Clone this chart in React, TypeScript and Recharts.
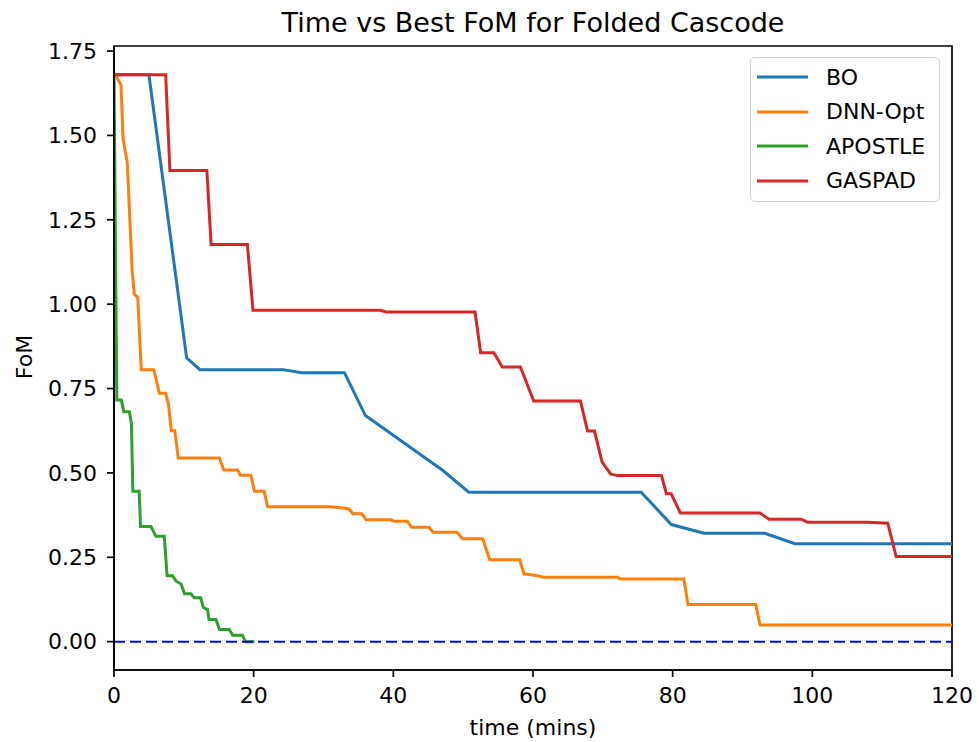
import { LineChart, Line, XAxis, YAxis, ReferenceLine, ReferenceArea } from 'recharts';

const FONT = '"DejaVu Sans", sans-serif';

// BO
const boTime = [0, 5.0, 10.4, 12.3, 24.2, 26.9, 33.0, 36.0, 47.1, 50.8, 75.5, 79.8, 84.5, 93.2, 97.5, 120];
const boFom = [1.68, 1.68, 0.841, 0.806, 0.806, 0.797, 0.797, 0.67, 0.507, 0.443, 0.443, 0.347, 0.321, 0.321, 0.29, 0.29];

// DNN-Opt
const dnnTime = [0, 0.2, 1.0, 1.3, 1.9, 2.6, 2.9, 3.4, 3.9, 5.7, 6.5, 7.4, 7.8, 8.2, 8.7, 9.2, 15.1, 15.7, 17.7, 18.1, 19.6, 20.1, 21.5, 22.0, 31.0, 32.4, 33.6, 34.2, 35.5, 36.1, 39.6, 40.1, 42.0, 42.6, 45.1, 45.7, 49.1, 49.9, 52.8, 53.8, 58.1, 58.7, 60.2, 61.6, 72.1, 72.5, 81.6, 82.2, 91.9, 92.5, 120];
const dnnFom = [1.68, 1.68, 1.65, 1.49, 1.42, 1.1, 1.03, 1.02, 0.806, 0.806, 0.736, 0.736, 0.704, 0.625, 0.625, 0.544, 0.544, 0.509, 0.509, 0.493, 0.493, 0.446, 0.446, 0.4, 0.4, 0.397, 0.394, 0.379, 0.379, 0.361, 0.361, 0.357, 0.357, 0.339, 0.339, 0.324, 0.324, 0.305, 0.305, 0.243, 0.243, 0.201, 0.197, 0.191, 0.191, 0.186, 0.186, 0.11, 0.11, 0.049, 0.049];

// APOSTLE
const apoTime = [0, 0.4, 1.05, 1.4, 2.2, 2.5, 2.7, 3.6, 3.8, 5.3, 6.0, 7.2, 7.6, 8.4, 8.9, 9.6, 10.1, 11.0, 11.5, 12.4, 12.8, 13.4, 13.6, 14.6, 15.1, 16.5, 17.0, 18.4, 18.8, 20.1];
const apoFom = [1.68, 0.716, 0.716, 0.681, 0.681, 0.646, 0.446, 0.446, 0.341, 0.341, 0.312, 0.312, 0.195, 0.195, 0.179, 0.171, 0.142, 0.142, 0.13, 0.13, 0.101, 0.095, 0.066, 0.066, 0.036, 0.036, 0.019, 0.019, 0, 0];

// GASPAD
const gasTime = [0, 7.4, 8.0, 13.3, 13.9, 19.1, 19.9, 38.1, 39.0, 51.7, 52.5, 54.4, 55.6, 58.2, 60.1, 66.8, 67.8, 68.8, 69.9, 71.1, 72.1, 78.4, 79.1, 79.8, 81.1, 92.5, 93.8, 98.4, 99.3, 107.9, 110.8, 112.0, 120];
const gasFom = [1.68, 1.68, 1.396, 1.396, 1.177, 1.177, 0.982, 0.982, 0.977, 0.977, 0.856, 0.856, 0.814, 0.814, 0.713, 0.713, 0.624, 0.624, 0.532, 0.497, 0.492, 0.492, 0.438, 0.438, 0.381, 0.381, 0.363, 0.363, 0.354, 0.354, 0.351, 0.252, 0.252];

const xTicks = [0, 20, 40, 60, 80, 100, 120];
const yTicks = [0, 0.25, 0.5, 0.75, 1.0, 1.25, 1.5, 1.75];

const toPoints = (ts: number[], vs: number[]) => ts.map((t, i) => ({ t, v: vs[i] }));

const series = [
  { name: 'BO', color: '#1f77b4', data: toPoints(boTime, boFom) },
  { name: 'DNN-Opt', color: '#ff7f0e', data: toPoints(dnnTime, dnnFom) },
  { name: 'APOSTLE', color: '#2ca02c', data: toPoints(apoTime, apoFom) },
  { name: 'GASPAD', color: '#d62728', data: toPoints(gasTime, gasFom) },
];

const Y_MIN = -0.084;
const Y_MAX = 1.765;

const App = () => {
  return (
    <div style={{ position: 'absolute', left: 0, top: 0, width: 979, height: 742, background: '#fff', fontFamily: FONT }}>
      <LineChart width={979} height={742} margin={{ top: 46, right: 27, left: 0, bottom: 0 }}>
        <XAxis
          dataKey="t"
          type="number"
          domain={[0, 120]}
          ticks={xTicks}
          height={72}
          allowDataOverflow
          stroke="#000"
          strokeWidth={1.7}
          tickSize={7}
          tickMargin={10}
          tick={{ fontSize: 22, fill: '#000', fontFamily: FONT }}
          label={{
            content: () => (
              <text x={533} y={735} textAnchor="middle" fontSize={22} fontFamily={FONT} fill="#000">
                time (mins)
              </text>
            ),
          }}
        />
        <YAxis
          type="number"
          domain={[Y_MIN, Y_MAX]}
          ticks={yTicks}
          width={114}
          allowDataOverflow
          stroke="#000"
          strokeWidth={1.7}
          tickSize={7}
          tickMargin={10}
          tickFormatter={(v: number) => v.toFixed(2)}
          tick={{ fontSize: 22, fill: '#000', fontFamily: FONT }}
          label={{
            content: () => (
              <text x={32} y={357} transform="rotate(-90 32 357)" textAnchor="middle" fontSize={22} fontFamily={FONT} fill="#000">
                FoM
              </text>
            ),
          }}
        />
        {series.map((s) => (
          <Line
            key={s.name}
            data={s.data}
            dataKey="v"
            name={s.name}
            type="linear"
            stroke={s.color}
            strokeWidth={3}
            dot={false}
            activeDot={false}
            isAnimationActive={false}
          />
        ))}
        <ReferenceLine y={0} stroke="#0000ff" strokeWidth={2} strokeDasharray="11 5" />
        <ReferenceArea x1={0} x2={120} y1={Y_MIN} y2={Y_MAX} stroke="#000" strokeWidth={1.7} fill="none" fillOpacity={0} ifOverflow="visible" />
      </LineChart>
      <div
        style={{
          position: 'absolute',
          left: 266,
          width: 534,
          top: 7,
          textAlign: 'center',
          fontSize: 27,
          color: '#000',
          lineHeight: '32px',
        }}
      >
        Time vs Best FoM for Folded Cascode
      </div>
      <div
        style={{
          position: 'absolute',
          left: 750,
          top: 57,
          width: 190,
          height: 145,
          border: '1px solid #d0d0d0',
          borderRadius: 5,
          background: 'rgba(255,255,255,0.8)',
          boxSizing: 'border-box',
          paddingTop: 2,
        }}
      >
        {series.map((s) => (
          <div key={s.name} style={{ display: 'flex', alignItems: 'center', height: 34.5, fontSize: 22, color: '#000' }}>
            <svg width={69} height={10} style={{ marginLeft: 6 }}>
              <line x1={0} y1={5} x2={51} y2={5} stroke={s.color} strokeWidth={3} />
            </svg>
            <span>{s.name}</span>
          </div>
        ))}
      </div>
    </div>
  );
};

export default App;
